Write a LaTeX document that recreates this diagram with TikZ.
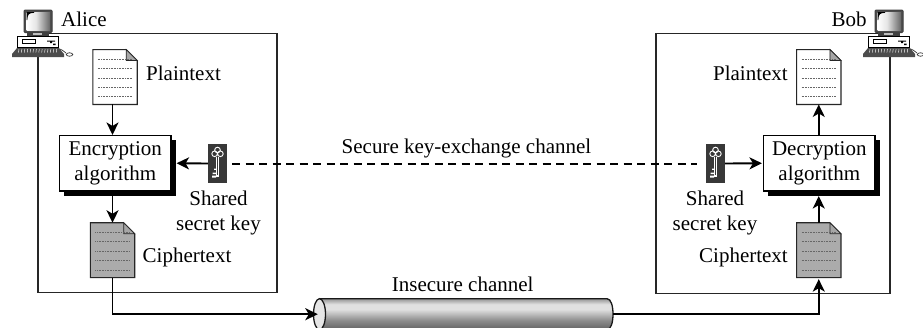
\documentclass[tikz,border=0pt]{standalone}
\usepackage{fontspec}
\setmainfont{Liberation Serif}
\usetikzlibrary{arrows.meta,shadows,calc}
\pgfdeclareverticalshading{cylshade}{100bp}{color(0bp)=(black!62); color(25bp)=(black!62); color(40bp)=(black!45); color(58bp)=(black!12); color(66bp)=(black!12); color(75bp)=(black!42); color(100bp)=(black!42)}
\pgfdeclarehorizontalshading{screenshade}{100bp}{color(0bp)=(white); color(25bp)=(white); color(45bp)=(black!10); color(75bp)=(black!60); color(100bp)=(black!60)}
\tikzset{
  lbl/.style={inner sep=0pt,font=\fontsize{21}{24.4}\selectfont},
  algbox/.style={draw=black,fill=white,line width=1.1pt,minimum width=111.5pt,minimum height=55.5pt,inner sep=0pt,align=center,
    font=\fontsize{21}{24.4}\selectfont,general shadow={fill=black,shadow xshift=4.5pt,shadow yshift=-4.5pt}},
  docbox/.style={minimum width=44pt,minimum height=54.5pt,inner sep=0pt},
  keybox/.style={fill=black!78,minimum width=19pt,minimum height=39pt,inner sep=0pt},
  flow/.style={line width=1.9pt,-{Stealth[length=12.5pt,width=12pt,inset=3.5pt]}},
  dashlink/.style={line width=2pt,dash pattern=on 8pt off 5.5pt},
  pics/computer/.style={code={
    % mouse
    \draw[line width=.7pt,black!80] (58,49) .. controls (62,49) and (63,51) .. (66,53);
    \draw[line width=.7pt,black!80,fill=white] (69.5,54.5) ellipse (3.3 and 1.7);
    % monitor
    \draw[fill=black!70,draw=black!75,line width=1pt,rounded corners=1pt] (24,10) rectangle (52,32.5);
    \shade[shading=screenshade] (26.5,12) rectangle (50,30.5);
    \fill[black] (26.5,12) -- (34,12) -- (34,12.8) .. controls (29,13) and (27.6,14) .. (27.3,20) -- (26.5,20) -- cycle;
    % stand
    \fill[black!75] (27,33) rectangle (49,36.5);
    \fill[black!25] (33,32.5) rectangle (42,34.5);
    % case
    \draw[fill=white,draw=black,line width=.9pt] (17.5,36.5) rectangle (58.5,47.5);
    \draw[fill=white,draw=black,line width=.7pt] (22,39.5) rectangle (35,43);
    \fill[black] (47,40.5) rectangle (55,41.7) (50,41.7) rectangle (52,43) (53,43.5) rectangle (55.5,45);
    % keyboard
    \fill[black!70] (17,48) -- (59,48) -- (64,54) -- (64,57) -- (12,57) -- (12,54) -- cycle;
    \foreach \i in {0,...,13} {\draw[white,line width=.45pt] (19+\i*2.9,49) -- (18.5+\i*2.9,52.5);}
  }},
  pics/keyicon/.style={code={
    \draw[white,line width=.9pt] (0,-13.5) circle (2.8) (-2.9,-9.7) circle (2.8) (2.9,-9.7) circle (2.8);
    \fill[white] (-1.3,-7) rectangle (1.3,13.5);
    \fill[black!78] (-.3,-7) rectangle (.3,11);
    \fill[white] (-1.3,9) rectangle (-5,10.5) (-1.3,12) rectangle (-5.5,14) (-1.3,5) rectangle (-3.5,6.3);
  }}
}
\newcommand{\docshape}[2]{%
  \draw[fill=#2,draw=black!85,line width=1.1pt] (#1.south west) -- (#1.north west) -- ($(#1.north east)+(-11,0)$) -- ($(#1.north east)+(0,11)$) -- (#1.south east) -- cycle;
  \draw[fill=black!35,draw=black!85,line width=.7pt] ($(#1.north east)+(-11,0)$) -- ($(#1.north east)+(-11,11)$) -- ($(#1.north east)+(0,11)$) -- cycle;
  \foreach \r in {0,1,2,3,4} {\draw[black!60,line width=.35pt,dash pattern=on .8pt off .8pt] ($(#1.north west)+(5,9.5+\r*9.4)$) -- ($(#1.north east)+(-5,9.5+\r*9.4)$);}
}
\begin{document}
\begin{tikzpicture}[x=1pt,y=-1pt]
\clip (0,0) rectangle (923,327);
\fill[white] (0,0) rectangle (923,327);
% frames
\node[draw=black!85,line width=1.1pt,minimum width=239pt,minimum height=259pt,inner sep=0pt] (alicebox) at (157.5,163) {};
\node[draw=black!85,line width=1.1pt,minimum width=234pt,minimum height=260pt,inner sep=0pt] (bobbox) at (773,163.5) {};
% computers
\pic (alicepc) at (0,0) {computer};
\pic (bobpc) at (851,0) {computer};
% docs
\node[docbox] (pa) at (115,77) {};
\node[docbox] (ca) at (112.5,250.2) {};
\node[docbox] (pb) at (818.75,77) {};
\node[docbox] (cb) at (818.75,250.2) {};
\docshape{pa}{white}
\docshape{ca}{black!33}
\docshape{pb}{white}
\docshape{cb}{black!33}
% algorithm boxes
\node[algbox] (enc) at (115.25,163.25) {\raisebox{-2pt}{Encryption}\\\raisebox{-2pt}{algorithm}};
\node[algbox] (dec) at (819.25,163.25) {\raisebox{-2pt}{Decryption}\\\raisebox{-2pt}{algorithm}};
% keys
\node[keybox] (ka) at (217.5,163.5) {};
\pic at (217.5,163.5) {keyicon};
\node[keybox] (kb) at (715.5,163.5) {};
\pic at (715.5,163.5) {keyicon};
% cylinder
\node[minimum width=299pt,minimum height=31pt,inner sep=0pt] (cyl) at (463.5,314.2) {};
\begin{scope}
\clip (319.5,298.7) -- (607,298.7) .. controls (611,298.7) and (613,306) .. (613,314.2) .. controls (613,322) and (611,329.7) .. (607,329.7) -- (319.5,329.7) -- cycle;
\shade[shading=cylshade] (319,298.7) rectangle (614,329.7);
\end{scope}
\draw[black!90,line width=1.3pt] (319.5,298.7) -- (607,298.7) .. controls (611,298.7) and (613,306) .. (613,314.2) .. controls (613,322) and (611,329.7) .. (607,329.7) -- (319.5,329.7);
\draw[black!90,fill=black!10,line width=1.3pt] (319.5,314.2) ellipse (6 and 15.5);
% labels
\node[lbl,anchor=base west] (lalice) at (61,26.5) {Alice};
\node[lbl,anchor=base east] (lbob) at (866.7,26.5) {Bob};
\node[lbl,anchor=base west] (lpa) at (146,80.5) {Plaintext};
\node[lbl,anchor=base east] (lpb) at (788,80.5) {Plaintext};
\node[lbl,anchor=base west] (lca) at (142.5,262.7) {Ciphertext};
\node[lbl,anchor=base east] (lcb) at (788,262.7) {Ciphertext};
\node[lbl,align=center] (ska) at (218.5,213) {Shared\\secret key};
\node[lbl,align=center] (skb) at (715,213) {Shared\\secret key};
\node[lbl,anchor=base] (lsec) at (466.5,153) {Secure key-exchange channel};
\node[lbl,anchor=base] (lins) at (462.7,291.5) {Insecure channel};
% connectors
\draw[flow] (pa.south -| enc.center) ++(-2.75,0) coordinate (paout) -- (paout |- enc.north);
\draw[flow] (ca.north |- enc.south) ++(0,4) coordinate (encout) -- (ca.north);
\draw[flow] (ka.west) -- ([xshift=5pt]enc.east);
\draw[flow] (kb.east) -- ([xshift=-1pt]dec.west);
\draw[dashlink,shorten <=5pt,shorten >=9pt] (ka.east) -- (kb.west);
\draw[flow] (dec.north -| pb.south) -- (pb.south);
\draw[flow] (cb.north) -- ([yshift=-4.5pt]dec.south -| cb.north);
\draw[flow] (ca.south) |- ([xshift=4pt]cyl.west);
\draw[flow,shorten >=1.5pt] (cyl.east) -| (cb.south);
\end{tikzpicture}
\end{document}
